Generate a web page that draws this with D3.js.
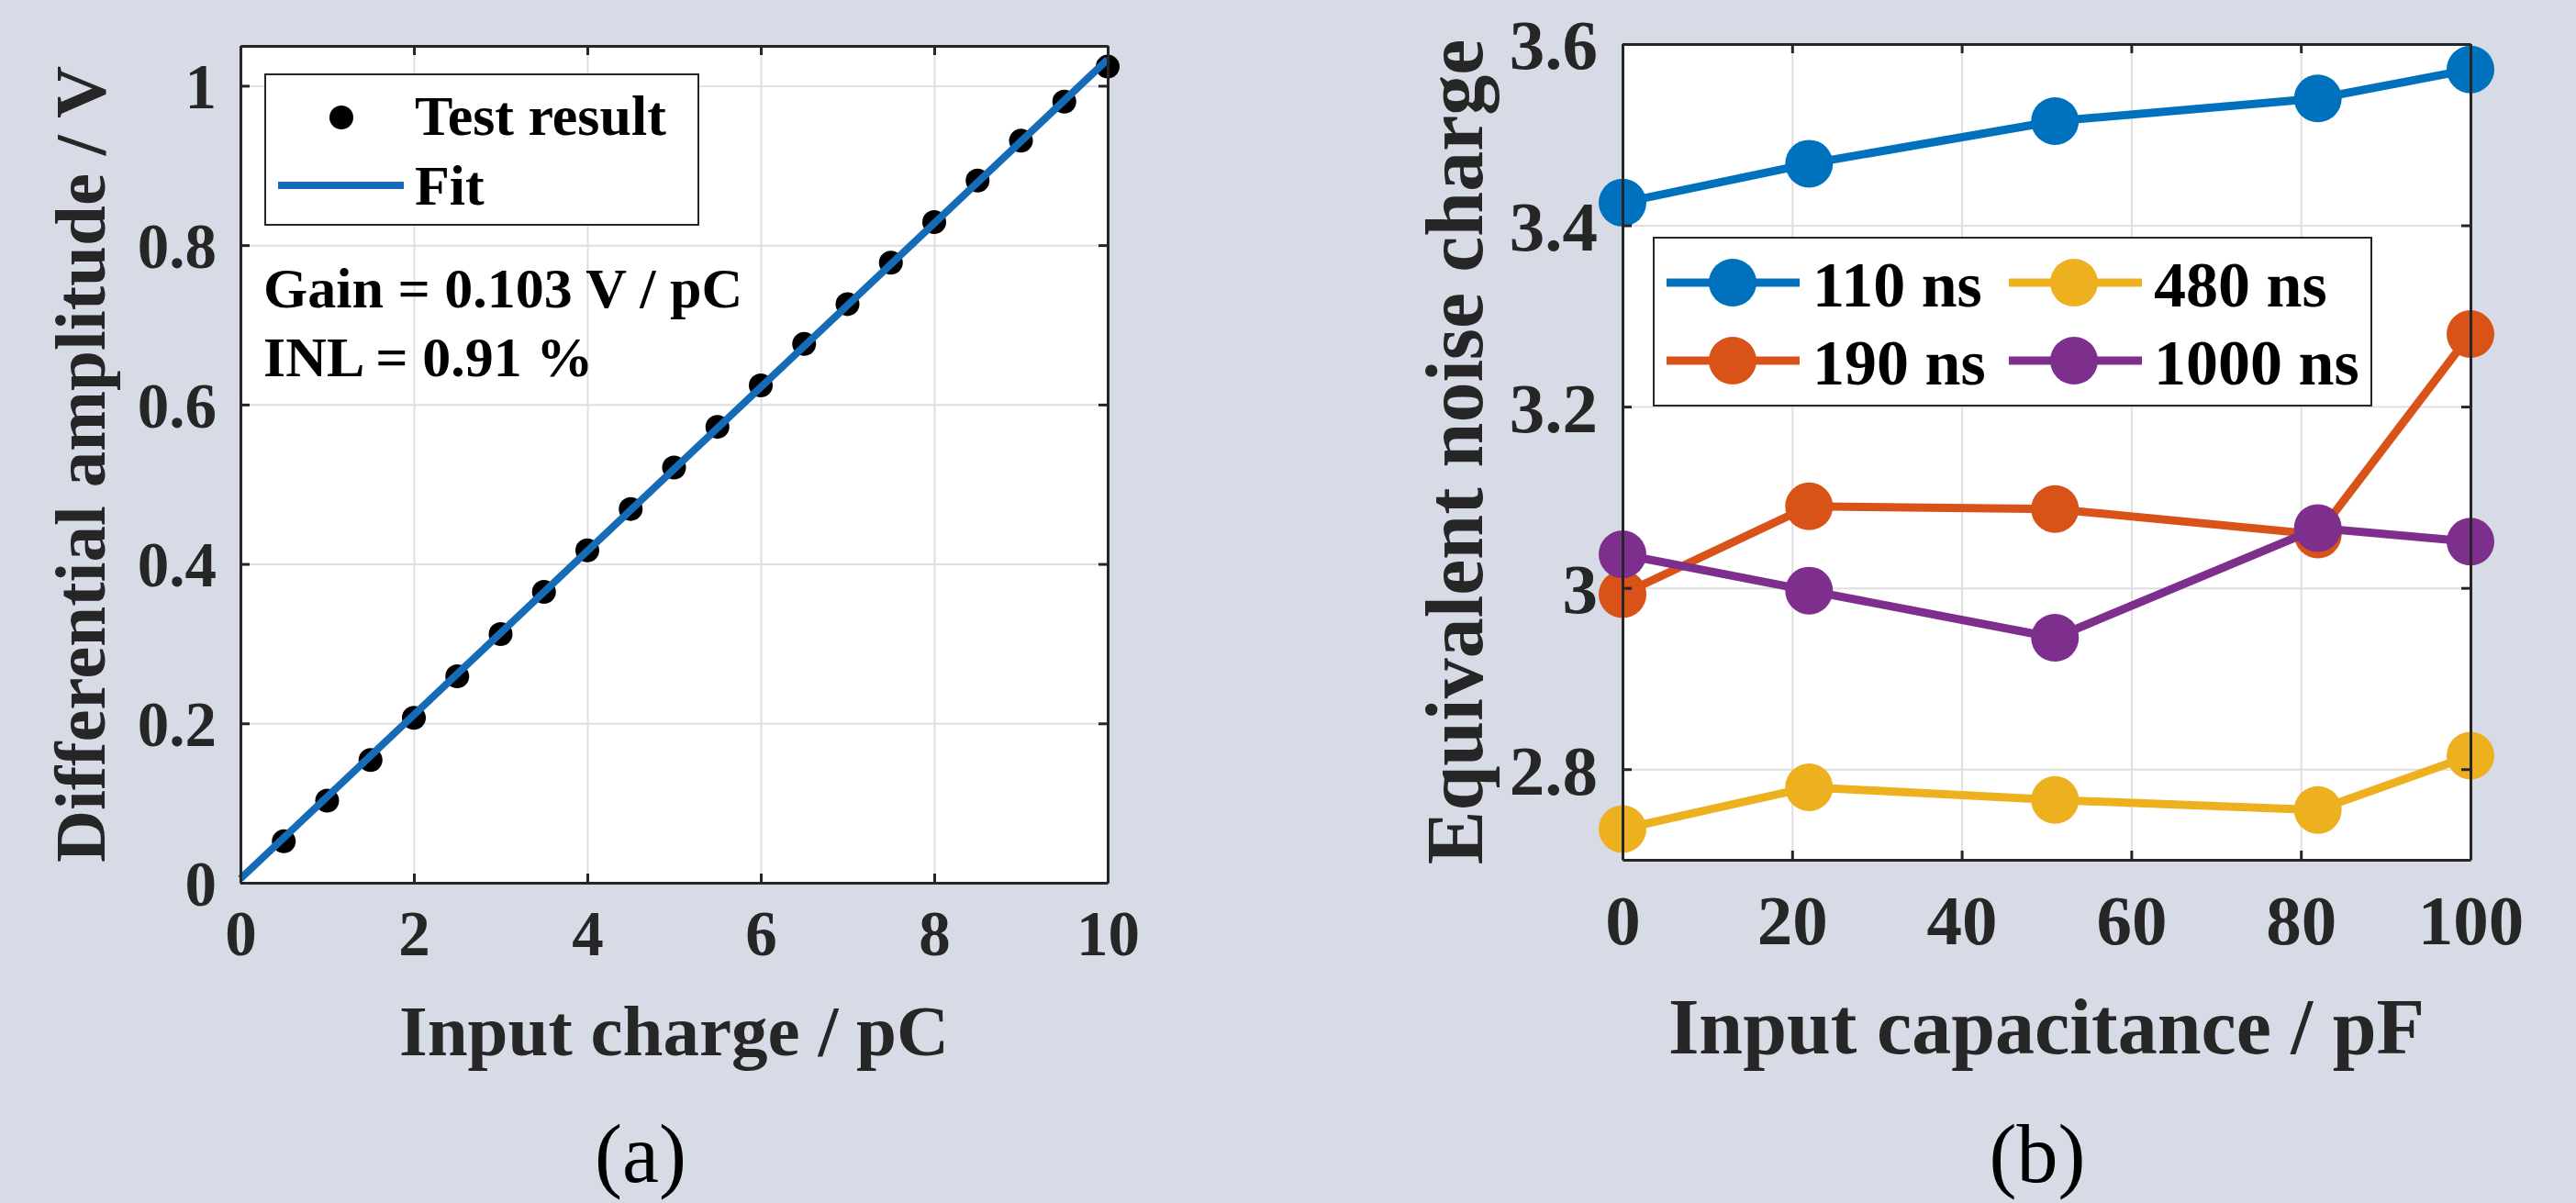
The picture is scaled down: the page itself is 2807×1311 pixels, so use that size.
<!DOCTYPE html>
<html>
<head>
<meta charset="utf-8">
<script src="https://cdn.jsdelivr.net/npm/d3@7"></script>
<style>
  html, body { margin: 0; padding: 0; background: #D6DBE5; }
  svg text { font-family: "Liberation Serif", "Times New Roman", serif; }
</style>
</head>
<body>
<svg id="chart" width="2807" height="1311"></svg>
<script>
// Panel (a): gain measurement
const chargeX = [0.5, 1, 1.5, 2, 2.5, 3, 3.5, 4, 4.5, 5, 5.5, 6, 6.5, 7, 7.5, 8, 8.5, 9, 9.5, 10];
const amplitudeY = [0.052, 0.103, 0.154, 0.207, 0.259, 0.312, 0.365, 0.417, 0.469, 0.521,
                    0.572, 0.624, 0.676, 0.726, 0.778, 0.829, 0.881, 0.931, 0.980, 1.024];
const fitX = [0, 10];
const fitY = [0.005, 1.033];
const chargeTicks = [0, 2, 4, 6, 8, 10];
const amplitudeTicks = [0, 0.2, 0.4, 0.6, 0.8, 1];

// Panel (b): ENC vs input capacitance
const capX = [0, 22, 51, 82, 100];
const shapingTimes = ['110 ns', '190 ns', '480 ns', '1000 ns'];
const enc110 = [3.425, 3.468, 3.515, 3.540, 3.572];
const enc190 = [2.993, 3.090, 3.087, 3.059, 3.280];
const enc480 = [2.734, 2.780, 2.766, 2.755, 2.815];
const enc1000 = [3.037, 2.997, 2.945, 3.066, 3.051];
const capTicks = [0, 20, 40, 60, 80, 100];
const encTicks = [2.8, 3, 3.2, 3.4, 3.6];

const seriesColors = ['#0072BD', '#D95319', '#EDB120', '#7E2F8E'];
const axisColor = '#262626';
const gridColor = '#DFDFDF';
const tickFmt = d3.format('~g');

const svg = d3.select('#chart');
svg.append('rect').attr('width', 2807).attr('height', 1311).attr('fill', '#D6DBE5');

// white box + grid
function drawAxes(g, x, y, xTicks, yTicks) {
    const [x0, x1] = x.range();
    const [y0, y1] = y.range(); // y0 bottom
    g.append('rect')
        .attr('x', x0).attr('y', y1)
        .attr('width', x1 - x0).attr('height', y0 - y1)
        .attr('fill', '#fff');

    g.append('g')
        .attr('transform', `translate(0,${y0})`)
        .call(d3.axisBottom(x).tickValues(xTicks).tickSize(-(y0 - y1)).tickFormat(''))
        .call(a => a.select('.domain').remove())
        .call(a => a.selectAll('line').attr('stroke', gridColor).attr('stroke-width', 2));
    g.append('g')
        .attr('transform', `translate(${x0},0)`)
        .call(d3.axisLeft(y).tickValues(yTicks).tickSize(-(x1 - x0)).tickFormat(''))
        .call(a => a.select('.domain').remove())
        .call(a => a.selectAll('line').attr('stroke', gridColor).attr('stroke-width', 2));
    return g;
}

// box with inward ticks on all four sides, labels, titles
function drawFrame(g, x, y, xTicks, yTicks, opt) {
    const [x0, x1] = x.range();
    const [y0, y1] = y.range();
    const tl = 10;
    const styleAxis = a => {
        a.select('.domain').attr('stroke', axisColor).attr('stroke-width', 3);
        a.selectAll('.tick line').attr('stroke', axisColor).attr('stroke-width', 3);
    };
    g.append('g')
        .attr('transform', `translate(0,${y0})`)
        .call(d3.axisBottom(x).tickValues(xTicks).tickFormat(tickFmt)
            .tickSizeInner(-tl).tickSizeOuter(0).tickPadding(opt.xPad))
        .call(styleAxis)
        .call(a => a.selectAll('text')
            .attr('fill', axisColor).attr('font-size', opt.tickSize).attr('font-weight', 'bold')
            .attr('dy', 0));
    g.append('g')
        .attr('transform', `translate(0,${y1})`)
        .call(d3.axisTop(x).tickValues(xTicks).tickSizeInner(-tl).tickSizeOuter(0).tickFormat(''))
        .call(styleAxis);
    g.append('g')
        .attr('transform', `translate(${x0},0)`)
        .call(d3.axisLeft(y).tickValues(yTicks).tickFormat(tickFmt)
            .tickSizeInner(-tl).tickSizeOuter(0).tickPadding(opt.yPad))
        .call(styleAxis)
        .call(a => a.selectAll('text')
            .attr('fill', axisColor).attr('font-size', opt.tickSize).attr('font-weight', 'bold')
            .attr('dy', '0.35em'));
    g.append('g')
        .attr('transform', `translate(${x1},0)`)
        .call(d3.axisRight(y).tickValues(yTicks).tickSizeInner(-tl).tickSizeOuter(0).tickFormat(''))
        .call(styleAxis);

    g.append('text')
        .attr('x', (x0 + x1) / 2).attr('y', opt.xTitleY)
        .attr('text-anchor', 'middle')
        .attr('font-size', opt.titleSize).attr('font-weight', 'bold').attr('fill', axisColor)
        .text(opt.xTitle);
    g.append('text')
        .attr('transform', `translate(${opt.yTitleX},${(y0 + y1) / 2}) rotate(-90)`)
        .attr('text-anchor', 'middle')
        .attr('font-size', opt.yTitleSize).attr('font-weight', 'bold').attr('fill', axisColor)
        .text(opt.yTitle);
    // panel tag
    g.append('text')
        .attr('x', opt.tagX).attr('y', 1288)
        .attr('text-anchor', 'middle')
        .attr('font-size', 90).attr('fill', '#000')
        .text(opt.tag);
}

// ---------- panel (a) ----------
const xa = d3.scaleLinear().domain([0, 10]).range([262, 1207]);
const ya = d3.scaleLinear().domain([0, 1.05]).range([962, 50]);
const ga = svg.append('g');
drawAxes(ga, xa, ya, chargeTicks, amplitudeTicks);

const ptsA = chargeX.map((c, i) => ({ x: c, y: amplitudeY[i] }));
ga.selectAll('.dot')
    .data(ptsA)
    .enter().append('circle')
    .attr('cx', d => xa(d.x)).attr('cy', d => ya(d.y))
    .attr('r', 13).attr('fill', '#000');

const fitLine = d3.line().x(d => xa(d[0])).y(d => ya(d[1]));
ga.append('path')
    .datum(fitX.map((v, i) => [v, fitY[i]]))
    .attr('d', fitLine)
    .attr('fill', 'none').attr('stroke', '#166BB6').attr('stroke-width', 8);

drawFrame(ga, xa, ya, chargeTicks, amplitudeTicks, {
    tickSize: 69, xPad: 79, yPad: 26, titleSize: 79, yTitleSize: 79,
    xTitle: 'Input charge / pC', xTitleY: 1150,
    yTitle: 'Differential amplitude / V', yTitleX: 114,
    tag: '(a)', tagX: 698
});

// legend (a)
const la = ga.append('g');
la.append('rect').attr('x', 289).attr('y', 81).attr('width', 472).attr('height', 164)
    .attr('fill', '#fff').attr('stroke', axisColor).attr('stroke-width', 2);
la.append('circle').attr('cx', 372).attr('cy', 128).attr('r', 13).attr('fill', '#000');
la.append('line').attr('x1', 303).attr('x2', 440).attr('y1', 202).attr('y2', 202)
    .attr('stroke', '#166BB6').attr('stroke-width', 8);
la.append('text').attr('x', 452).attr('y', 147).attr('font-size', 62).attr('font-weight', 'bold').text('Test result');
la.append('text').attr('x', 452).attr('y', 223).attr('font-size', 62).attr('font-weight', 'bold').text('Fit');

ga.append('text').attr('x', 287).attr('y', 335).attr('font-size', 62).attr('font-weight', 'bold')
    .text('Gain = 0.103 V / pC');
ga.append('text').attr('x', 287).attr('y', 410).attr('font-size', 62).attr('font-weight', 'bold')
    .text('INL = 0.91 %');

// ---------- panel (b) ----------
const xb = d3.scaleLinear().domain([0, 100]).range([1768, 2692]);
const yb = d3.scaleLinear().domain([2.7, 3.6]).range([937, 48]);
const gb = svg.append('g');
drawAxes(gb, xb, yb, capTicks, encTicks);

const encSeries = [enc110, enc190, enc480, enc1000];
const lineB = d3.line().x((d, i) => xb(capX[i])).y(d => yb(d));
encSeries.forEach((vals, k) => {
    const s = gb.append('g');
    s.append('path').datum(vals).attr('d', lineB)
        .attr('fill', 'none').attr('stroke', seriesColors[k]).attr('stroke-width', 9);
    s.selectAll('circle').data(vals).enter().append('circle')
        .attr('cx', (d, i) => xb(capX[i])).attr('cy', d => yb(d))
        .attr('r', 26).attr('fill', seriesColors[k]);
});

drawFrame(gb, xb, yb, capTicks, encTicks, {
    tickSize: 77, xPad: 92, yPad: 27, titleSize: 86, yTitleSize: 88,
    xTitle: 'Input capacitance / pF', xTitleY: 1148,
    yTitle: 'Equivalent noise charge', yTitleX: 1615,
    tag: '(b)', tagX: 2220
});

// legend (b): two columns
const lb = gb.append('g');
lb.append('rect').attr('x', 1802).attr('y', 259).attr('width', 782).attr('height', 183)
    .attr('fill', '#fff').attr('stroke', axisColor).attr('stroke-width', 2);
const legendPos = [
    { lx: 1816, mx: 1888, tx: 1975, cy: 308 },
    { lx: 1816, mx: 1888, tx: 1975, cy: 393 },
    { lx: 2189, mx: 2260, tx: 2347, cy: 308 },
    { lx: 2189, mx: 2260, tx: 2347, cy: 393 }
];
shapingTimes.forEach((name, k) => {
    const p = legendPos[k];
    lb.append('line').attr('x1', p.lx).attr('x2', p.lx + 145).attr('y1', p.cy).attr('y2', p.cy)
        .attr('stroke', seriesColors[k]).attr('stroke-width', 9);
    lb.append('circle').attr('cx', p.mx).attr('cy', p.cy).attr('r', 26).attr('fill', seriesColors[k]);
    lb.append('text').attr('x', p.tx).attr('y', p.cy + 26)
        .attr('font-size', 70).attr('font-weight', 'bold').attr('fill', '#000').text(name);
});
</script>
</body>
</html>
